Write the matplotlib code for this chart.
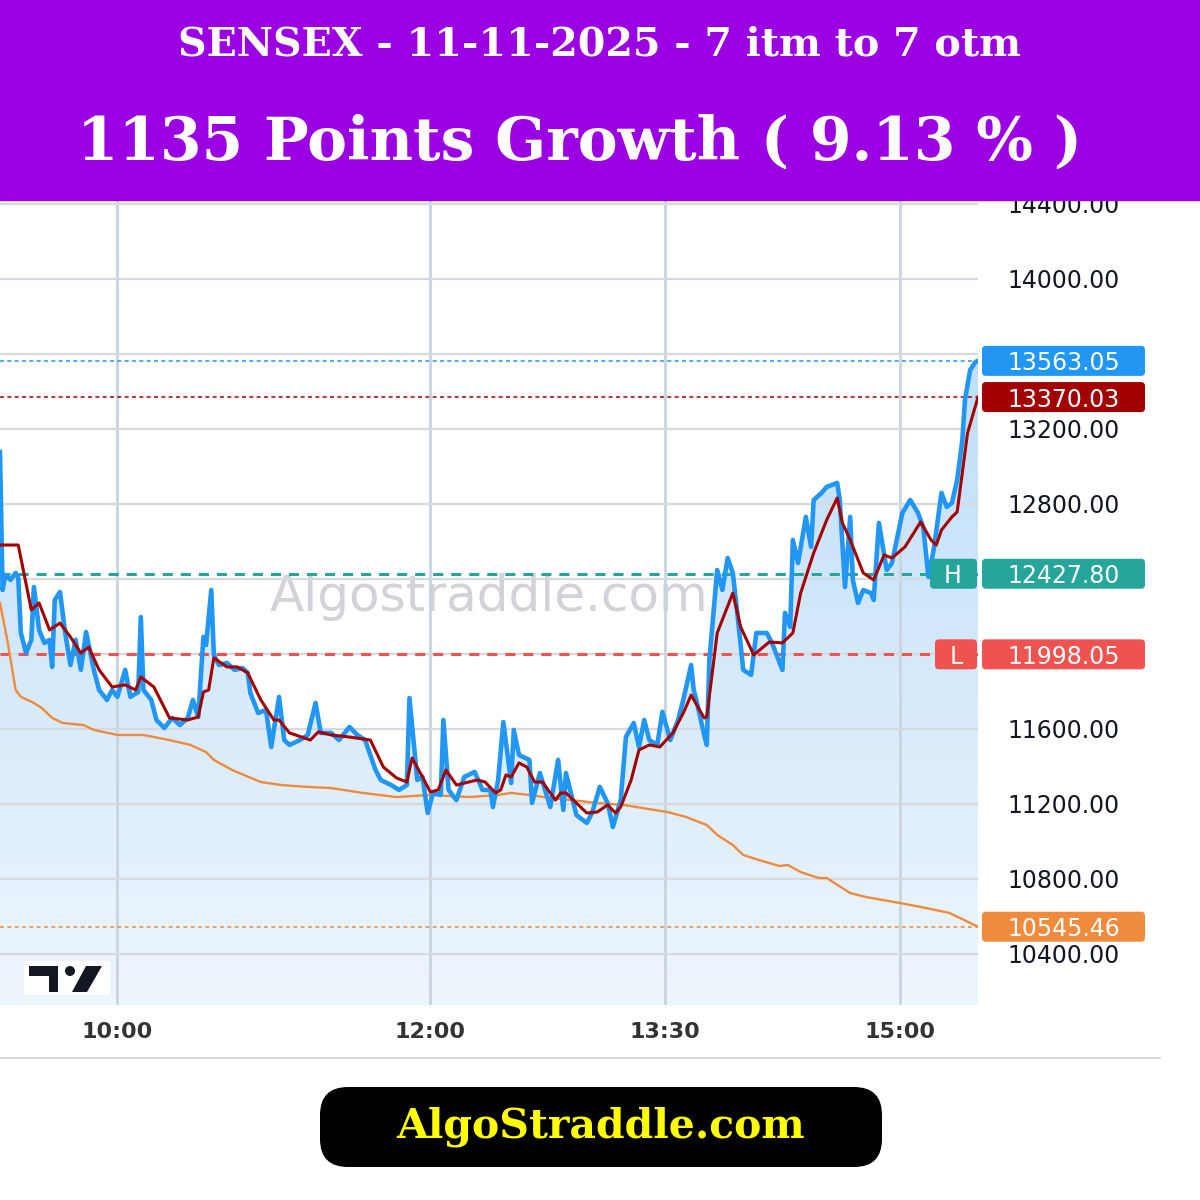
import matplotlib.pyplot as plt
import numpy as np
from matplotlib.patches import Rectangle, FancyBboxPatch, Polygon, Circle
from matplotlib.colors import LinearSegmentedColormap

# straddle premium, minutes after 09:15
price_t = [0, 1, 2, 4, 6, 7, 8, 10, 12, 13, 15, 17, 19, 20, 21, 23, 25, 27, 29, 31,
           33, 36, 38, 41, 43, 45, 48, 50, 53, 54, 55, 58, 60, 63, 66, 69, 72, 74, 76, 78,
           79, 81, 82, 84, 87, 90, 93, 95, 96, 99, 102, 104, 105, 107, 109, 111, 115, 118, 121, 123,
           127, 130, 134, 137, 140, 144, 146, 150, 153, 156, 157, 160, 162, 164, 166, 169, 170, 172, 175, 178,
           182, 185, 188, 189, 191, 193, 196, 197, 199, 203, 204, 207, 211, 214, 216, 217, 221, 225, 227, 230,
           233, 235, 238, 240, 243, 245, 247, 249, 252, 254, 257, 260, 262, 265, 266, 267, 270, 271, 272, 275,
           277, 279, 281, 283, 285, 288, 290, 294, 296, 300, 301, 303, 304, 306, 309, 311, 312, 315, 317, 321,
           322, 324, 326, 327, 329, 331, 334, 335, 337, 340, 342, 346, 349, 352, 354, 356, 358, 361, 363, 365,
           367, 369, 370, 372, 374, 375]
price_v = [13077, 12341, 12421, 12395, 12432, 12405, 12112, 12005, 12075, 12357, 12128, 12059, 12075, 11931, 12288, 12331, 12112, 11941, 12075, 11915,
           12117, 11915, 11808, 11755, 11808, 11771, 11915, 11771, 11797, 12197, 11808, 11755, 11648, 11605, 11659, 11621, 11659, 11755, 11664, 12091,
           12048, 12341, 11995, 11941, 11952, 11915, 11925, 11899, 11792, 11685, 11701, 11504, 11595, 11771, 11541, 11515, 11541, 11568, 11739, 11579,
           11579, 11541, 11611, 11568, 11541, 11381, 11328, 11301, 11275, 11301, 11765, 11328, 11344, 11152, 11259, 11248, 11648, 11275, 11221, 11344,
           11371, 11275, 11275, 11184, 11328, 11637, 11312, 11595, 11461, 11435, 11205, 11365, 11184, 11435, 11168, 11365, 11141, 11099, 11152, 11291,
           11205, 11077, 11221, 11557, 11632, 11504, 11648, 11541, 11515, 11691, 11541, 11648, 11755, 11941, 11808, 11755, 11568, 11515, 11968, 12448,
           12341, 12512, 12432, 12181, 11915, 11888, 12112, 12112, 12059, 11915, 12219, 12144, 12608, 12485, 12731, 12571, 12821, 12859, 12891, 12912,
           12821, 12357, 12731, 12395, 12272, 12341, 12325, 12288, 12699, 12448, 12485, 12752, 12821, 12752, 12677, 12411, 12555, 12859, 12784, 12805,
           12928, 13141, 13355, 13515, 13557, 13563.05]

# moving average (dark red)
avg_t = [0, 7, 12, 15, 19, 23, 27, 31, 34, 38, 43, 48, 52, 54, 59, 65, 72, 76, 78, 80,
         82, 87, 91, 95, 100, 105, 107, 111, 119, 122, 127, 134, 142, 147, 152, 156, 158, 162, 165, 168,
         171, 175, 183, 186, 190, 192, 194, 196, 199, 202, 205, 208, 213, 215, 217, 221, 225, 229, 233, 236,
         238, 242, 245, 249, 253, 258, 262, 265, 270, 271, 275, 281, 284, 289, 295, 300, 304, 307, 312, 317,
         321, 323, 326, 331, 335, 339, 342, 347, 353, 357, 359, 361, 365, 367, 371, 375]
avg_v = [12581, 12581, 12235, 12272, 12128, 12165, 12091, 12005, 12037, 11915, 11824, 11835, 11808, 11877, 11824, 11659, 11648, 11664, 11797, 11808,
         11979, 11931, 11931, 11899, 11755, 11648, 11648, 11579, 11541, 11584, 11568, 11557, 11541, 11397, 11339, 11317, 11445, 11344, 11264, 11275,
         11381, 11301, 11328, 11317, 11259, 11275, 11355, 11344, 11419, 11397, 11317, 11317, 11221, 11259, 11259, 11205, 11152, 11157, 11195, 11152,
         11184, 11328, 11488, 11515, 11504, 11579, 11685, 11781, 11659, 11664, 12112, 12325, 12144, 11995, 12064, 12059, 12112, 12325, 12539, 12715,
         12832, 12699, 12608, 12432, 12395, 12528, 12512, 12571, 12704, 12608, 12581, 12661, 12731, 12757, 13179, 13370.03]

# vwap (orange)
vwap_t = [0, 3, 6, 8, 13, 16, 20, 24, 32, 36, 45, 55, 65, 73, 79, 82, 89, 100, 108, 118,
          127, 139, 152, 165, 180, 191, 196, 203, 211, 219, 229, 239, 256, 263, 271, 275, 281, 285, 291, 299,
          302, 307, 314, 317, 326, 332, 345, 353, 364, 375]
vwap_v = [12272, 12059, 11808, 11771, 11739, 11712, 11659, 11632, 11621, 11595, 11568, 11568, 11541, 11515, 11477, 11435, 11381, 11317, 11301, 11291,
          11285, 11259, 11237, 11248, 11237, 11248, 11259, 11248, 11232, 11221, 11205, 11195, 11157, 11131, 11088, 11035, 10981, 10928, 10901, 10869,
          10875, 10837, 10805, 10805, 10725, 10704, 10672, 10651, 10619, 10545.46]

last_price = 13563.05
last_avg = 13370.03
high_level = 12427.80
low_level = 11998.05
last_vwap = 10545.46

y_ticks = [10400, 10800, 11200, 11600, 12000, 12400, 12800, 13200, 13600, 14000, 14400]
x_ticks = [45, 165, 255, 345]
x_labels = ["10:00", "12:00", "13:30", "15:00"]

title = "SENSEX - 11-11-2025 - 7 itm to 7 otm"
subtitle = "1135 Points Growth ( 9.13 % )"
site = "AlgoStraddle.com"

BLUE = "#2196f3"
RED = "#a30000"
ORANGE = "#f08a3c"
TEAL = "#26a69a"
LRED = "#ef5350"

fig = plt.figure(figsize=(12, 12), dpi=100)
fig.patch.set_facecolor("white")

ylo, yhi = 10128, 14421
ax = fig.add_axes([0, 1 - 1005 / 1200, 978 / 1200, 805 / 1200])

# gradient fill under the price line
grad = np.linspace(0, 1, 256).reshape(-1, 1)
cmap = LinearSegmentedColormap.from_list("fill", ["#eef6fd", "#b3d9f8"])
img = ax.imshow(grad, cmap=cmap, aspect="auto", origin="lower",
                extent=[0, 375, ylo, yhi], zorder=1)
verts = [(price_t[0], ylo)] + list(zip(price_t, price_v)) + [(price_t[-1], ylo)]
clip = Polygon(verts, closed=True, fc="none", ec="none")
ax.add_patch(clip)
img.set_clip_path(clip)

ax.text(0.5, 0.507, "Algostraddle.com", transform=ax.transAxes, fontsize=36,
        color="#d2d3d8", ha="center", va="center", zorder=2)

ax.plot(vwap_t, vwap_v, color=ORANGE, lw=1.7, zorder=3)
ax.plot(price_t, price_v, color=BLUE, lw=3.3, zorder=4, solid_joinstyle="round")
ax.plot(avg_t, avg_v, color=RED, lw=2.2, zorder=5, solid_joinstyle="round")

# price level lines
ax.axhline(last_price, color=BLUE, lw=1.1, ls=(0, (2.6, 2.2)), zorder=2.6)
ax.axhline(last_avg, color=RED, lw=1.1, ls=(0, (2.6, 2.2)), zorder=2.6)
ax.axhline(last_vwap, color=ORANGE, lw=1.1, ls=(0, (2.6, 2.2)), zorder=2.6)
ax.axhline(high_level, color=TEAL, lw=2.2, ls=(0, (3.3, 2.6)), zorder=2.6)
ax.axhline(low_level, color=LRED, lw=2.2, ls=(0, (3.3, 2.6)), zorder=2.6)

tag_levels = [last_price, last_avg, high_level, low_level, last_vwap]
# tick labels hidden behind the price tags are left blank
y_labels = ["" if min(abs(v - t) for t in tag_levels) < 100 else f"{v:.2f}" for v in y_ticks]

ax.set_xlim(0, 375)
ax.set_ylim(ylo, yhi)
ax.yaxis.tick_right()
ax.set_yticks(y_ticks, y_labels)
ax.set_xticks(x_ticks, x_labels)
ax.tick_params(axis="y", length=0, pad=21, labelsize=17, labelcolor="#131722")
ax.tick_params(axis="x", length=0, pad=12, labelsize=16, labelcolor="#333333")
for lab in ax.get_xticklabels():
    lab.set_fontweight("bold")
ax.grid(axis="y", color="#d6d9dd", lw=1.6)
ax.grid(axis="x", color="#c9d4de", lw=2)
ax.set_axisbelow(False)
for s in ax.spines.values():
    s.set_visible(False)

# overlay in pixel space for header, price tags and footer
ov = fig.add_axes([0, 0, 1, 1])
ov.set_xlim(0, 1200)
ov.set_ylim(1200, 0)
ov.axis("off")


def px_y(v):
    return fig.get_figheight() * fig.dpi - ax.transData.transform((0, v))[1]


ov.add_patch(Rectangle((0, 0), 1200, 200, color="#9a00e2", zorder=5))
ov.text(600, 44, title, ha="center", va="center", color="white", fontsize=28.5,
        family="DejaVu Serif", weight="bold", zorder=6)
ov.text(580, 143, subtitle, ha="center", va="center", color="white", fontsize=43,
        family="DejaVu Serif", weight="bold", zorder=6)

tag_colors = [BLUE, RED, TEAL, LRED, ORANGE]
for v, c in zip(tag_levels, tag_colors):
    y = px_y(v)
    ov.add_patch(FancyBboxPatch((982, y - 15), 163, 30, boxstyle="round,pad=0,rounding_size=4",
                                fc=c, ec="none", zorder=6))
    ov.text(1007, y, f"{v:.2f}", color="white", fontsize=17, ha="left",
            va="center_baseline", zorder=7)

y = px_y(high_level)
ov.add_patch(FancyBboxPatch((930, y - 15), 47, 30, boxstyle="round,pad=0,rounding_size=4",
                            fc=TEAL, ec="none", zorder=6))
ov.text(953, y, "H", color="white", fontsize=17, ha="center", va="center_baseline", zorder=7)
y = px_y(low_level)
ov.add_patch(FancyBboxPatch((935, y - 15), 42, 30, boxstyle="round,pad=0,rounding_size=4",
                            fc=LRED, ec="none", zorder=6))
ov.text(956, y, "L", color="white", fontsize=17, ha="center", va="center_baseline", zorder=7)

# tradingview logo
ov.add_patch(Rectangle((24, 961), 86, 34, fc="white", ec="none", zorder=6))
ov.add_patch(Polygon([(29, 966), (58, 966), (58, 992), (49, 992), (49, 976), (29, 976)],
                     closed=True, fc="#131722", ec="none", zorder=7))
ov.add_patch(Circle((70, 971), 5, fc="#131722", ec="none", zorder=7))
ov.add_patch(Polygon([(72, 992), (87, 992), (102, 966), (86, 966)],
                     closed=True, fc="#131722", ec="none", zorder=7))

# footer
ov.plot([0, 1160], [1058, 1058], color="#d9d9d9", lw=1.5, zorder=5)
ov.add_patch(FancyBboxPatch((320, 1087), 562, 80, boxstyle="round,pad=0,rounding_size=28",
                            fc="black", ec="none", zorder=6))
ov.text(601, 1127, site, ha="center", va="center", color="#ffff00", fontsize=29.5,
        family="DejaVu Serif", weight="bold", zorder=7)

fig.savefig("out.png", dpi=100)
